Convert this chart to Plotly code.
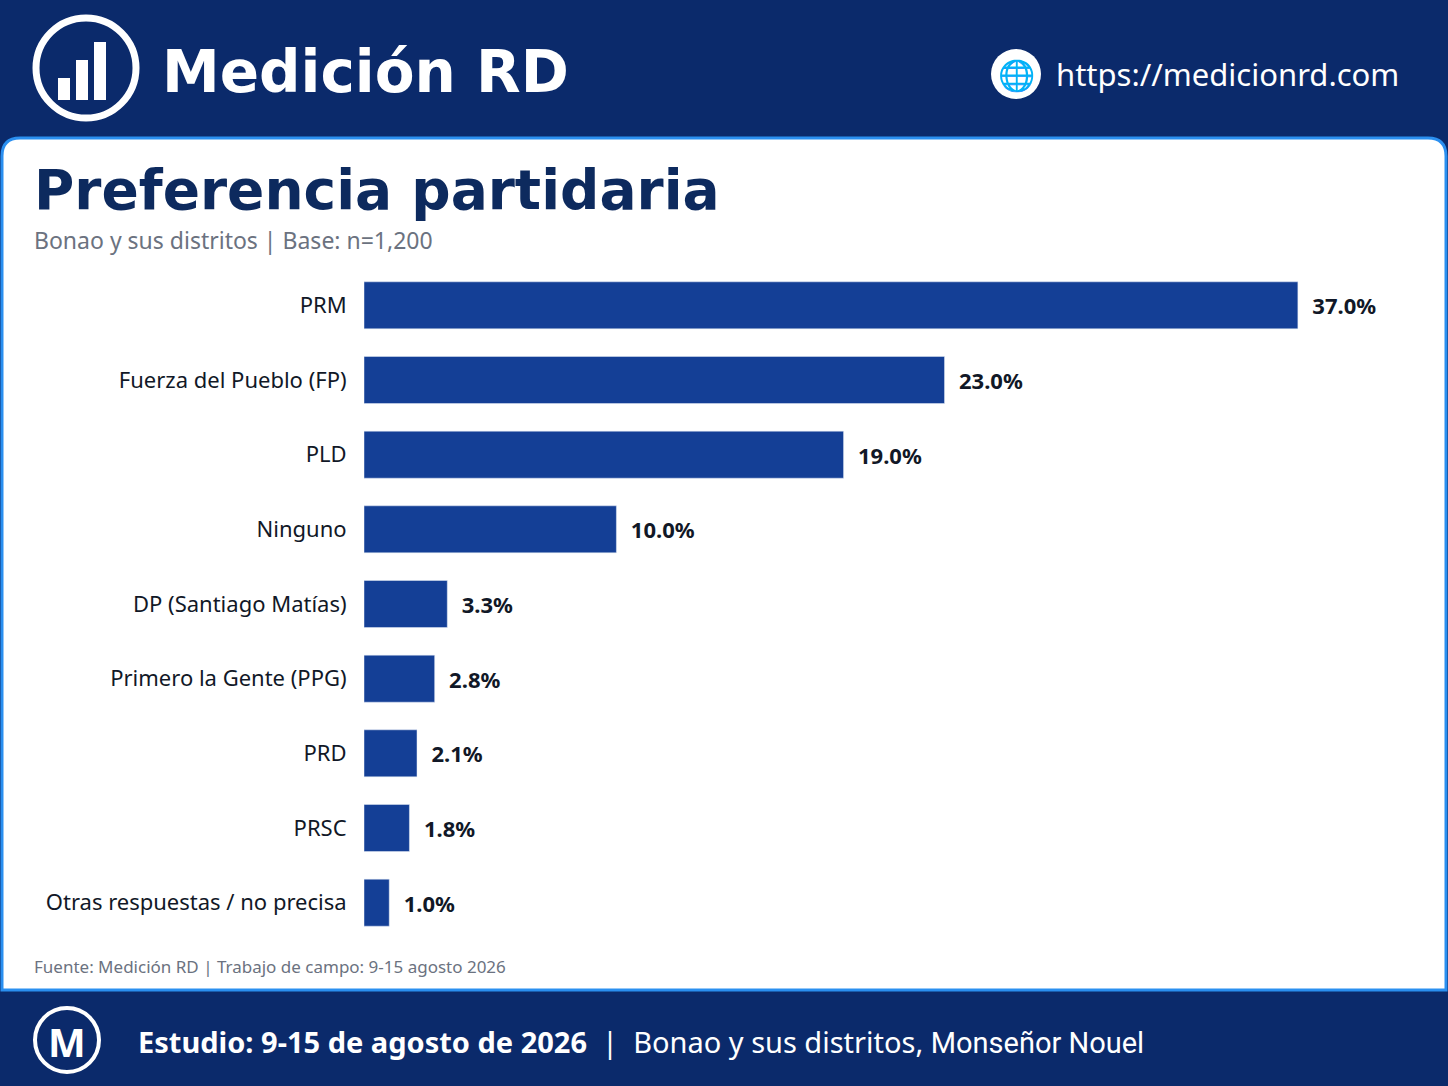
import plotly.graph_objects as go

categories = ["PRM", "Fuerza del Pueblo (FP)", "PLD", "Ninguno", "DP (Santiago Matías)",
              "Primero la Gente (PPG)", "PRD", "PRSC", "Otras respuestas / no precisa"]
values = [37.0, 23.0, 19.0, 10.0, 3.3, 2.8, 2.1, 1.8, 1.0]
labels = [f"{v:.1f}%" for v in values]

W, H = 1448, 1086
def py(p): return 1 - p / H
def px(p): return p / W

fig = go.Figure(go.Bar(
    x=values, y=categories, orientation="h", marker_color="#143f96",
    width=0.63, text=labels, textposition="outside", cliponaxis=False,
    textfont=dict(family="Noto Sans", size=22, color="#111827"),
))
fig.update_traces(texttemplate="  <b>%{text}</b>")

shapes = [
    dict(type="rect", xref="paper", yref="paper", x0=0, x1=1, y0=0, y1=1, fillcolor="#0b2a6b", line_width=0, layer="below"),
    dict(type="path", xref="paper", yref="paper", layer="below",
         path=f"M {px(20)} {py(138)} L {px(1428)} {py(138)} Q {px(1446)} {py(138)} {px(1446)} {py(156)} L {px(1446)} {py(990)} L {px(2)} {py(990)} L {px(2)} {py(156)} Q {px(2)} {py(138)} {px(20)} {py(138)} Z",
         fillcolor="white", line=dict(color="#2a8ff0", width=3)),
    dict(type="circle", xref="paper", yref="paper", x0=px(36), x1=px(136), y0=py(118), y1=py(18), line=dict(color="white", width=7)),
    dict(type="circle", xref="paper", yref="paper", x0=px(991), x1=px(1041), y0=py(99), y1=py(49), fillcolor="white", line_width=0),
    dict(type="circle", xref="paper", yref="paper", x0=px(35), x1=px(99), y0=py(1072), y1=py(1008), line=dict(color="white", width=4)),
]
for x0, h in [(58, 22), (76, 40), (94, 58)]:
    shapes.append(dict(type="rect", xref="paper", yref="paper", x0=px(x0), x1=px(x0 + 12), y0=py(100), y1=py(100 - h), fillcolor="white", line_width=0))

ann = [
    dict(x=px(160), y=py(72), text="<b>Medición RD</b>", font=dict(family="DejaVu Sans", size=58, color="white"), xanchor="left"),
    dict(x=px(1016), y=py(74), text="🌐", font=dict(size=30, color="#0b2a6b"), xanchor="center"),
    dict(x=px(1054), y=py(74), text="https://medicionrd.com", font=dict(family="Noto Sans", size=31, color="white"), xanchor="left"),
    dict(x=px(32), y=py(190), text="<b>Preferencia partidaria</b>", font=dict(family="DejaVu Sans", size=55, color="#0d2a5e"), xanchor="left"),
    dict(x=px(32), y=py(240), text="Bonao y sus distritos | Base: n=1,200", font=dict(family="Noto Sans", size=23, color="#6b7280"), xanchor="left"),
    dict(x=px(32), y=py(966), text="Fuente: Medición RD | Trabajo de campo: 9-15 agosto 2026", font=dict(family="Noto Sans", size=17, color="#6b7280"), xanchor="left"),
    dict(x=px(67), y=py(1041), text="<b>M</b>", font=dict(family="Noto Sans", size=40, color="white"), xanchor="center"),
    dict(x=px(136), y=py(1041), text="<b>Estudio: 9-15 de agosto de 2026</b>  |  <span style='font-weight:normal'>Bonao y sus distritos,</span> <span style='font-family:Roboto'>Monseñor Nouel</span>",
         font=dict(family="Noto Sans", size=29, color="white"), xanchor="left"),
]
for a in ann:
    a.update(xref="paper", yref="paper", showarrow=False, yanchor="middle")

fig.update_layout(
    width=W, height=H, margin=dict(l=0, r=0, t=0, b=0),
    paper_bgcolor="#0b2a6b", plot_bgcolor="rgba(0,0,0,0)",
    shapes=shapes, annotations=ann, showlegend=False,
    xaxis=dict(domain=[px(364), 1], range=[0, (W - 364) / 25.24], visible=False),
    yaxis=dict(domain=[py(940), py(268)], autorange="reversed", showgrid=False,
               tickfont=dict(family="Noto Sans", size=22, color="#111827"), ticks="outside",
               ticklen=12, tickcolor="rgba(0,0,0,0)", showline=False),
)
fig.write_html("out.html", config={"displayModeBar": False},
               post_script="document.body.style.margin='0';document.body.style.overflow='hidden';")
